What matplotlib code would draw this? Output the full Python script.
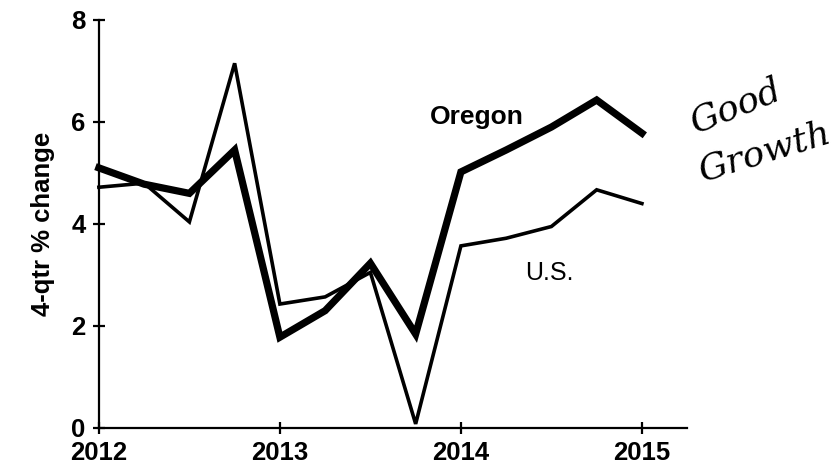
import matplotlib.pyplot as plt

# quarterly points, 2012Q1 .. 2015Q1
quarters = [2012.0, 2012.25, 2012.5, 2012.75,
            2013.0, 2013.25, 2013.5, 2013.75,
            2014.0, 2014.25, 2014.5, 2014.75, 2015.0]
oregon = [5.1, 4.78, 4.6, 5.45, 1.78, 2.3, 3.23, 1.84, 5.02, 5.45, 5.9, 6.43, 5.78]
us = [4.72, 4.8, 4.04, 7.15, 2.43, 2.57, 3.05, 0.08, 3.57, 3.72, 3.95, 4.67, 4.4]
year_ticks = [2012, 2013, 2014, 2015]
y_ticks = [0, 2, 4, 6, 8]

plt.rcParams['font.family'] = ['Liberation Sans', 'DejaVu Sans']

fig = plt.figure(figsize=(8.38, 4.75), dpi=100)
ax = fig.add_axes([0.118, 0.099, 0.702, 0.859])

ax.plot(quarters, us, color='black', lw=2.6, solid_joinstyle='miter', clip_on=False)
ax.plot(quarters, oregon, color='black', lw=5.2, solid_joinstyle='miter', clip_on=False)

ax.set_xlim(2012, 2015.25)
ax.set_ylim(0, 8)
ax.set_xticks(year_ticks)
ax.set_xticklabels([str(y) for y in year_ticks])
ax.set_yticks(y_ticks)

for s in ['top', 'right']:
    ax.spines[s].set_visible(False)
for s in ['left', 'bottom']:
    ax.spines[s].set_linewidth(1.6)

ax.tick_params(direction='inout', length=9, width=1.6, labelsize=18.5, pad=5)
for lab in ax.get_xticklabels() + ax.get_yticklabels():
    lab.set_fontweight('bold')

ax.set_ylabel('4-qtr % change', fontsize=18.5, fontweight='bold', labelpad=12)

ax.text(2014.09, 6.1, 'Oregon', fontsize=19, fontweight='bold', ha='center', va='center')
ax.text(2014.49, 3.04, 'U.S.', fontsize=18, ha='center', va='center')

# handwritten note
fig.text(0.878, 0.775, 'Good', fontsize=26, style='italic', family='DejaVu Serif',
         rotation=22, ha='center', va='center')
fig.text(0.912, 0.68, 'Growth', fontsize=26, style='italic', family='DejaVu Serif',
         rotation=17, ha='center', va='center')

fig.savefig('out.png', dpi=100)
